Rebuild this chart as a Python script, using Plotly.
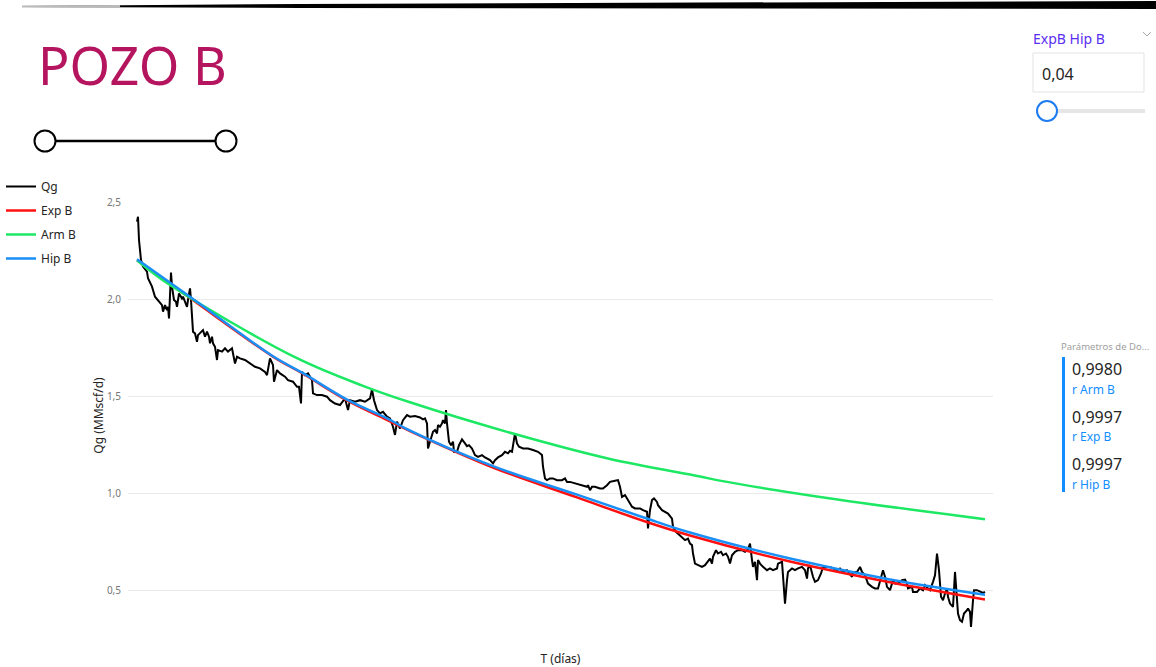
import plotly.graph_objects as go

# ---------------- data ----------------
t_qg = [0, 1, 2, 4, 6, 10, 11, 15, 18, 21, 25, 26, 28, 30, 31, 32, 34, 35, 37, 39, 40, 42, 45, 46, 48, 50, 51, 53, 54,
        56, 58, 60, 61, 63, 65, 66, 68, 70, 72, 73, 75, 76, 78, 80, 81, 85, 88, 91, 95, 98, 100, 103, 108, 113, 118,
        123, 128, 130, 133, 136, 137, 140, 143, 148, 151, 156, 160, 162, 164, 165, 168, 171, 175, 176, 180, 185, 190,
        193, 198, 203, 208, 211, 213, 218, 223, 228, 233, 235, 237, 240, 243, 246, 250, 253, 256, 258, 260, 263, 266,
        270, 273, 278, 283, 286, 288, 290, 291, 293, 295, 296, 298, 300, 301, 303, 305, 306, 308, 309, 310, 312, 314,
        316, 317, 320, 322, 325, 328, 330, 332, 335, 338, 341, 345, 348, 353, 356, 358, 361, 365, 368, 371, 373, 375,
        377, 378, 380, 382, 386, 391, 396, 401, 405, 406, 408, 410, 413, 416, 420, 425, 428, 430, 433, 438, 441, 446,
        450, 451, 453, 455, 458, 463, 466, 470, 473, 478, 481, 483, 485, 488, 490, 493, 495, 498, 503, 506, 510, 511,
        513, 515, 517, 520, 521, 525, 528, 531, 535, 536, 539, 541, 545, 548, 551, 553, 555, 556, 558, 561, 565, 568,
        571, 573, 575, 576, 579, 581, 584, 586, 589, 591, 593, 595, 598, 601, 605, 608, 611, 613, 615, 616, 618, 620,
        621, 623, 626, 630, 633, 636, 640, 641, 645, 647, 648, 650, 651, 655, 658, 661, 665, 668, 670, 671, 673, 676,
        678, 681, 684, 686, 688, 693, 696, 700, 703, 706, 710, 713, 715, 716, 720, 723, 725, 728, 731, 735, 738, 741,
        745, 746, 748, 750, 753, 756, 758, 761, 765, 768, 770, 771, 775, 776, 780, 783, 786, 788, 791, 793, 796, 798,
        800, 802, 804, 806, 808, 810, 811, 813, 816, 818, 821, 823, 825, 827, 830, 831, 833, 834, 836, 837, 840, 843,
        846, 848]
qg = [2.399, 2.424, 2.304, 2.201, 2.167, 2.141, 2.107, 2.064, 2.012, 1.995, 1.969, 1.935, 1.969, 1.943, 1.960, 1.900,
      2.136, 2.064, 1.995, 1.986, 1.960, 2.029, 2.003, 2.012, 1.986, 1.960, 1.995, 2.055, 1.995,
      1.832, 1.823, 1.780, 1.814, 1.823, 1.832, 1.840, 1.806, 1.832, 1.806, 1.772, 1.806, 1.772, 1.754, 1.686, 1.737,
      1.729, 1.746, 1.729, 1.746, 1.668, 1.703, 1.694, 1.686, 1.668, 1.651,
      1.643, 1.625, 1.608, 1.694, 1.660, 1.574, 1.634, 1.617, 1.600, 1.582, 1.574, 1.548, 1.548, 1.462, 1.625, 1.608,
      1.617, 1.582, 1.514, 1.505, 1.505, 1.497,
      1.479, 1.462, 1.454, 1.488, 1.428, 1.479, 1.471, 1.479, 1.471, 1.488, 1.534, 1.479, 1.428, 1.411, 1.419, 1.394,
      1.385, 1.342, 1.300, 1.368, 1.333, 1.376,
      1.402, 1.394, 1.397, 1.390, 1.380, 1.385, 1.359, 1.230, 1.265, 1.308, 1.316, 1.325, 1.308, 1.351, 1.342, 1.359,
      1.376, 1.359, 1.428, 1.359, 1.265, 1.247,
      1.265, 1.213, 1.213, 1.247, 1.277, 1.256, 1.242, 1.247, 1.230, 1.196, 1.187, 1.196, 1.184, 1.170, 1.153, 1.170,
      1.184, 1.196, 1.213, 1.205, 1.218, 1.213,
      1.265, 1.308, 1.256, 1.239, 1.230, 1.230, 1.222, 1.213, 1.196, 1.136, 1.076, 1.067, 1.076, 1.076, 1.067, 1.067,
      1.076, 1.058, 1.058, 1.050, 1.046, 1.041,
      1.033, 1.041, 1.015, 1.033, 1.033, 1.024, 1.024, 1.041, 1.058, 1.064, 1.067, 1.033, 0.981, 0.990, 0.973, 0.947,
      0.930, 0.921, 0.921, 0.912, 0.904, 0.818,
      0.912, 0.964, 0.973, 0.955, 0.938, 0.912, 0.904, 0.895, 0.869, 0.826, 0.801, 0.792, 0.775, 0.758, 0.766, 0.740,
      0.732, 0.689, 0.637, 0.629, 0.620, 0.629,
      0.646, 0.663, 0.637, 0.672, 0.706, 0.689, 0.698, 0.680, 0.689, 0.672, 0.637, 0.680, 0.698, 0.706, 0.706, 0.698,
      0.710, 0.740, 0.655, 0.620, 0.646, 0.552,
      0.655, 0.637, 0.620, 0.603, 0.612, 0.603, 0.612, 0.637, 0.646, 0.500, 0.431, 0.552, 0.594, 0.612, 0.603, 0.612,
      0.620, 0.603, 0.560, 0.612, 0.629, 0.569,
      0.543, 0.552, 0.586, 0.620, 0.620, 0.620, 0.612, 0.603, 0.612, 0.594, 0.603, 0.586, 0.569, 0.594, 0.594, 0.620,
      0.594, 0.577, 0.534, 0.517, 0.509, 0.509,
      0.594, 0.603, 0.569, 0.517, 0.500, 0.552, 0.534, 0.534, 0.552, 0.555, 0.534, 0.509, 0.517, 0.491, 0.491, 0.509,
      0.500, 0.526, 0.509, 0.500, 0.543, 0.577,
      0.689, 0.603, 0.466, 0.448, 0.483, 0.509, 0.466, 0.431, 0.414, 0.594, 0.380, 0.345, 0.337, 0.380, 0.397, 0.406,
      0.388, 0.311, 0.448, 0.500, 0.500, 0.491,
      0.486, 0.491]

t_exp = [0, 53, 136, 166, 210, 253, 273, 356, 440, 506, 553, 653, 753, 848]
exp_b = [2.200, 2.005, 1.703, 1.615, 1.478, 1.370, 1.320, 1.132, 0.978, 0.858, 0.782, 0.648, 0.541, 0.452]

t_arm = [0, 33, 160, 226, 273, 376, 473, 563, 580, 690, 848]
arm_b = [2.200, 2.072, 1.695, 1.553, 1.468, 1.307, 1.176, 1.086, 1.067, 0.975, 0.866]

t_hip = [0, 53, 136, 166, 210, 253, 270, 356, 440, 506, 553, 653, 753, 848]
hip_b = [2.205, 2.012, 1.705, 1.618, 1.482, 1.378, 1.330, 1.139, 0.992, 0.876, 0.797, 0.663, 0.555, 0.476]

y_ticks = [0.5, 1.0, 1.5, 2.0, 2.5]

card_values = ["0,9980", "0,9997", "0,9997"]
card_labels = ["r Arm B", "r Exp B", "r Hip B"]

# ---------------- figure ----------------
W, H = 1156, 667
L, R, T, B = 128, 993, 202, 629


def px(x):
    return (x - L) / (R - L)


def py(y):
    return (B - y) / (B - T)


fig = go.Figure()
fig.add_trace(go.Scatter(x=t_qg, y=qg, mode="lines", name="Qg", legendgroup="a",
                         line=dict(color="#000000", width=2)))
fig.add_trace(go.Scatter(x=t_exp, y=exp_b, mode="lines", name="Exp B", legendgroup="b",
                         line=dict(color="#FF1010", width=2.5, shape="spline")))
fig.add_trace(go.Scatter(x=t_arm, y=arm_b, mode="lines", name="Arm B", legendgroup="c",
                         line=dict(color="#1CE863", width=2.5, shape="spline")))
fig.add_trace(go.Scatter(x=t_hip, y=hip_b, mode="lines", name="Hip B", legendgroup="d",
                         line=dict(color="#1A8FF5", width=2.5, shape="spline")))

FONT = "Segoe UI, Noto Sans, Open Sans, sans-serif"

fig.update_layout(
    width=W, height=H, autosize=False,
    margin=dict(l=L, r=W - R, t=T, b=H - B, pad=0, autoexpand=False),
    paper_bgcolor="white", plot_bgcolor="white",
    separators=",.",
    font=dict(family=FONT, color="#252423"),
    showlegend=True,
    legend=dict(xref="container", yref="container", x=1 / W, y=1 - 172 / H,
                xanchor="left", yanchor="top",
                font=dict(size=12, color="#252423"), tracegroupgap=5,
                bgcolor="rgba(0,0,0,0)", itemwidth=30),
    xaxis=dict(range=[-9, 856], showticklabels=False, showgrid=False, zeroline=False,
               showline=False, ticks="", automargin=False,
               title=dict(text="T (días)", font=dict(size=12, color="#252423"), standoff=25)),
    yaxis=dict(range=[0.3, 2.5], tickvals=y_ticks, tickformat=".1f", showgrid=True,
               gridcolor="#EAEAEA", gridwidth=1, zeroline=False, showline=False, ticks="",
               automargin=False, tickfont=dict(size=10, color="#777777"), ticklabelstandoff=6,
               title=dict(text="Qg (MMscf/d)", font=dict(size=12, color="#252423"), standoff=0)),
)

shapes = []
# top decorative bar
shapes.append(dict(type="path", xref="paper", yref="paper",
                   path=f"M {px(22)} {py(6)} L {px(300)} {py(4)} L {px(1156)} {py(1)} L {px(1156)} {py(9)} "
                        f"L {px(300)} {py(8)} L {px(22)} {py(7)} Z",
                   fillcolor="#000000", line=dict(width=0), layer="above"))
shapes.append(dict(type="path", xref="paper", yref="paper",
                   path=f"M {px(22)} {py(5.5)} L {px(120)} {py(5)} L {px(120)} {py(8)} L {px(22)} {py(7.5)} Z",
                   fillcolor="#BBBBBB", line=dict(width=0), layer="above"))
# left range slider
shapes.append(dict(type="line", xref="paper", yref="paper", x0=px(45), x1=px(226), y0=py(141), y1=py(141),
                   line=dict(color="#000000", width=2.5)))
for cx in (45, 226):
    shapes.append(dict(type="circle", xref="paper", yref="paper",
                       x0=px(cx - 10.5), x1=px(cx + 10.5), y0=py(141 + 10.5), y1=py(141 - 10.5),
                       fillcolor="white", line=dict(color="#000000", width=2)))
# right slicer box
shapes.append(dict(type="rect", xref="paper", yref="paper", x0=px(1033), x1=px(1144), y0=py(92), y1=py(53),
                   fillcolor="white", line=dict(color="#E3E3E3", width=1)))
shapes.append(dict(type="line", xref="paper", yref="paper", x0=px(1047), x1=px(1145), y0=py(111), y1=py(111),
                   line=dict(color="#E6E6E6", width=4)))
shapes.append(dict(type="circle", xref="paper", yref="paper",
                   x0=px(1037), x1=px(1057), y0=py(121), y1=py(101),
                   fillcolor="white", line=dict(color="#1E7BF0", width=2)))
shapes.append(dict(type="path", xref="paper", yref="paper",
                   path=f"M {px(1143)} {py(32)} L {px(1147)} {py(36)} L {px(1151)} {py(32)}",
                   line=dict(color="#AAAAAA", width=1)))
# card accent bar
shapes.append(dict(type="rect", xref="paper", yref="paper", x0=px(1062), x1=px(1065), y0=py(492), y1=py(357),
                   fillcolor="#118DFF", line=dict(width=0)))
fig.update_layout(shapes=shapes)

ann = []
ann.append(dict(text="POZO B", x=px(36), y=py(64), xref="paper", yref="paper", xanchor="left", yanchor="middle",
                showarrow=False, font=dict(size=52, color="#B5155F", family=FONT)))
ann.append(dict(text="ExpB Hip B", x=px(1031), y=py(38), xref="paper", yref="paper", xanchor="left",
                yanchor="middle", showarrow=False, font=dict(size=14, color="#5A2EF0", family=FONT)))
ann.append(dict(text="0,04", x=px(1040), y=py(74), xref="paper", yref="paper", xanchor="left",
                yanchor="middle", showarrow=False, font=dict(size=16, color="#252423", family=FONT)))
ann.append(dict(text="Parámetros de Do...", x=px(1059), y=py(346), xref="paper", yref="paper", xanchor="left",
                yanchor="middle", showarrow=False, font=dict(size=9.5, color="#A0A0A0", family=FONT)))
for i, (v, lab) in enumerate(zip(card_values, card_labels)):
    y0 = 369 + i * 47.5
    ann.append(dict(text=v, x=px(1070), y=py(y0), xref="paper", yref="paper", xanchor="left", yanchor="middle",
                    showarrow=False, font=dict(size=16, color="#252423", family=FONT)))
    ann.append(dict(text=lab, x=px(1070), y=py(y0 + 20), xref="paper", yref="paper", xanchor="left",
                    yanchor="middle", showarrow=False, font=dict(size=12, color="#118DFF", family=FONT)))
fig.update_layout(annotations=ann)

fig.write_html("out.html", config={"displayModeBar": False},
               post_script="document.body.style.margin='0';")
